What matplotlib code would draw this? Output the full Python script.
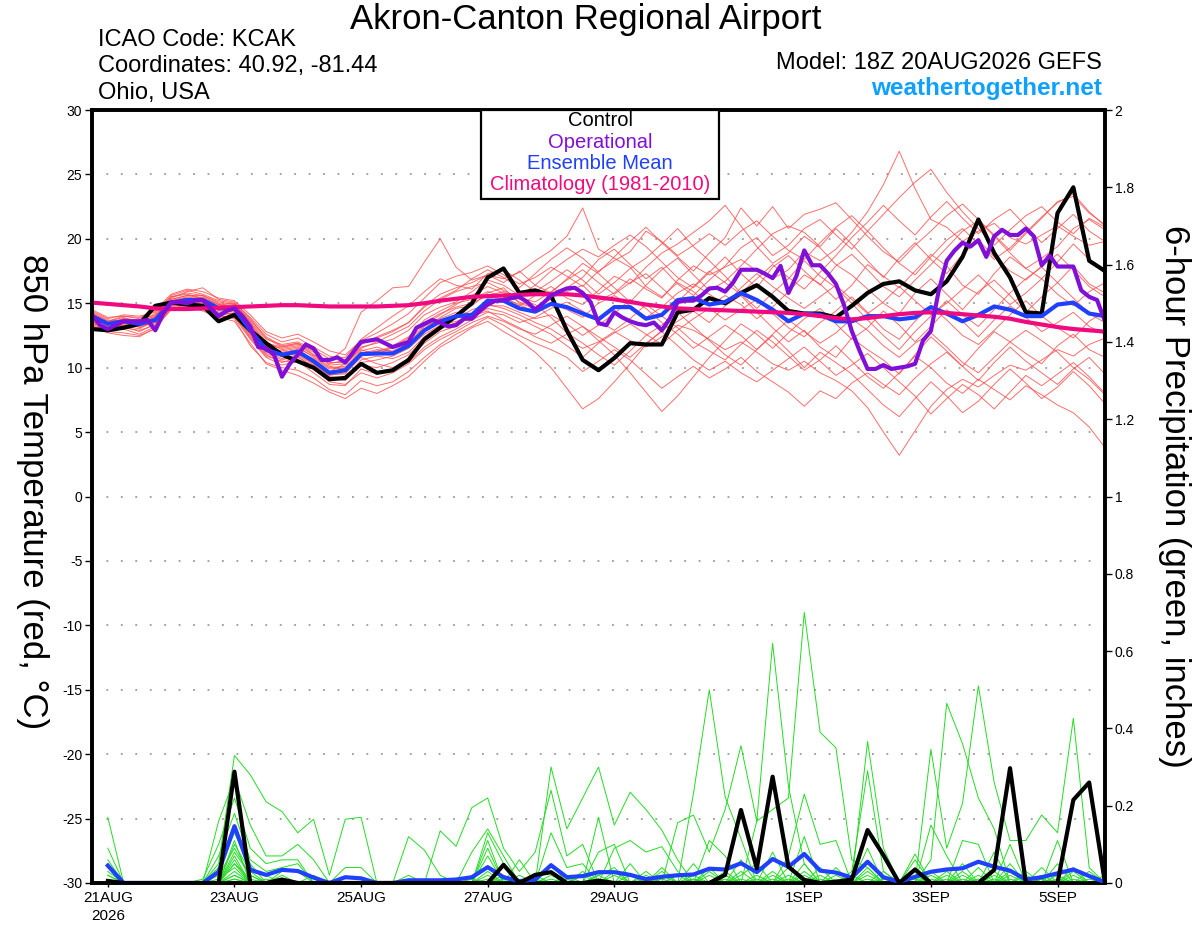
import numpy as np
import pandas as pd
import matplotlib
matplotlib.use('Agg')
import matplotlib.pyplot as plt
from matplotlib.patches import Rectangle

plt.rcParams['font.family'] = ['Liberation Sans', 'DejaVu Sans']
plt.rcParams['axes.unicode_minus'] = False

# GEFS 18Z 20AUG2026 run, 6-hourly steps (operational run is 3-hourly)
times = pd.date_range('2026-08-20 18:00', periods=65, freq='6h')
op_times = pd.date_range('2026-08-20 18:00', periods=129, freq='3h')
precip_times = times[1:]

tick_dates = pd.to_datetime(['2026-08-21', '2026-08-23', '2026-08-25', '2026-08-27',
                             '2026-08-29', '2026-09-01', '2026-09-03', '2026-09-05'])
tick_labels = ['21AUG\n2026', '23AUG', '25AUG', '27AUG', '29AUG', '1SEP', '3SEP', '5SEP']

# 850 hPa temperature (C)
control_t = [13.0, 12.9, 13.1, 13.4, 14.8, 15.05, 14.9, 14.8, 13.6, 14.1,
             12.9, 11.9, 11.0, 10.5, 10.0, 9.1, 9.2, 10.3, 9.6, 9.8,
             10.6, 12.2, 13.1, 14.0, 15.0, 17.0, 17.7, 15.8, 16.0, 15.6,
             12.9, 10.6, 9.8, 10.75, 11.9, 11.8, 11.8, 14.3, 14.5, 15.4,
             15.0, 15.8, 16.4, 15.5, 14.4, 14.2, 14.2, 13.9, 14.8, 15.8,
             16.5, 16.7, 16.0, 15.7, 16.7, 18.6, 21.5, 18.9, 17.0, 14.3,
             14.2, 22.0, 24.0, 18.3, 17.5]

oper_t = [14.1, 13.3, 13.0, 13.3, 13.6, 13.6, 13.6, 13.7, 12.9, 14.2,
          15.05, 15.1, 15.0, 15.2, 15.25, 14.6, 14.0, 14.4, 14.6, 14.0,
          13.2, 11.6, 11.5, 11.0, 9.3, 10.3, 11.0, 11.8, 11.5, 10.6,
          10.6, 10.8, 10.4, 11.2, 12.0, 12.1, 12.2, 11.9, 11.6, 11.8,
          12.0, 13.1, 13.4, 13.7, 13.5, 13.2, 13.3, 13.8, 13.8, 14.4,
          14.9, 15.2, 15.25, 15.4, 15.5, 15.1, 14.5, 15.0, 15.6, 15.9,
          16.15, 16.2, 15.8, 15.1, 13.45, 13.3, 14.3, 13.9, 13.6, 13.4,
          13.3, 13.5, 12.9, 13.8, 15.1, 15.2, 15.2, 15.6, 16.15, 16.2,
          15.9, 16.6, 17.6, 17.6, 17.6, 17.3, 16.95, 17.9, 15.8, 17.1,
          19.1, 17.95, 17.95, 17.3, 16.5, 14.9, 12.85, 11.3, 9.9, 9.9,
          10.2, 9.9, 10.0, 10.1, 10.3, 12.1, 12.85, 16.0, 18.3, 19.1,
          19.7, 19.4, 19.9, 18.6, 20.2, 20.7, 20.3, 20.3, 20.8, 20.2,
          17.95, 18.7, 17.85, 17.85, 17.85, 16.0, 15.5, 15.25, 13.6]

mean_t = [14.0, 13.4, 13.6, 13.4, 13.7, 15.05, 15.25, 15.25, 14.6, 14.6,
          12.9, 11.4, 11.0, 11.25, 10.5, 9.6, 9.8, 11.05, 11.1, 11.1,
          11.7, 12.9, 13.6, 14.0, 14.1, 15.2, 15.2, 14.6, 14.35, 14.95,
          14.7, 14.2, 13.75, 14.7, 14.7, 13.8, 14.1, 15.25, 15.4, 14.9,
          15.1, 15.8, 15.25, 14.5, 13.6, 14.2, 14.1, 13.6, 13.6, 14.0,
          14.0, 13.75, 13.9, 14.7, 14.2, 13.6, 14.1, 14.75, 14.5, 14.0,
          14.0, 14.9, 15.05, 14.2, 14.0]

clim_t = [15.05, 14.95, 14.85, 14.75, 14.6, 14.55, 14.55, 14.6, 14.65, 14.7,
          14.75, 14.8, 14.85, 14.85, 14.8, 14.75, 14.75, 14.75, 14.75, 14.8,
          14.85, 15.0, 15.2, 15.35, 15.5, 15.55, 15.6, 15.65, 15.7, 15.7,
          15.7, 15.6, 15.45, 15.3, 15.1, 14.9, 14.75, 14.6, 14.55, 14.5,
          14.45, 14.4, 14.35, 14.3, 14.25, 14.15, 14.0, 13.85, 13.75, 13.85,
          14.0, 14.15, 14.25, 14.3, 14.25, 14.15, 14.05, 13.95, 13.8, 13.55,
          13.35, 13.15, 13.0, 12.9, 12.8]

# ensemble members, temperature
t01 = [14.2, 13.6, 13.9, 13.5, 14.0, 15.3, 15.6, 15.4, 14.8, 14.9, 13.5, 12.0, 11.4, 11.6, 10.8, 10.0, 10.1, 11.3, 11.6, 11.2,
       11.9, 13.0, 13.9, 14.6, 14.8, 15.8, 16.2, 15.0, 14.6, 15.5, 15.9, 16.4, 15.2, 15.8, 16.9, 16.1, 15.4, 16.8, 17.9, 17.2,
       17.8, 18.4, 17.5, 16.9, 17.6, 19.0, 18.3, 19.2, 20.5, 22.1, 24.2, 26.8, 23.9, 21.5, 20.9, 19.8, 20.6, 21.2, 20.1, 19.6,
       20.3, 21.0, 20.2, 19.5, 19.8]
t02 = [13.6, 13.0, 13.1, 12.9, 13.3, 14.8, 15.0, 14.9, 14.3, 14.1, 12.4, 11.0, 10.4, 10.8, 10.1, 9.2, 9.0, 10.4, 10.6, 10.9,
       11.5, 12.6, 13.3, 13.8, 14.5, 14.9, 14.6, 14.1, 13.5, 13.0, 12.2, 11.5, 12.0, 12.8, 12.1, 11.6, 12.4, 13.3, 12.9, 12.2,
       11.4, 12.0, 11.2, 10.3, 9.8, 10.5, 9.6, 9.0, 8.2, 6.9, 5.0, 3.2, 5.1, 7.0, 8.3, 9.1, 8.5, 9.4, 10.2, 9.8,
       10.6, 11.4, 10.9, 11.8, 12.3]
t03 = [14.4, 13.8, 14.1, 14.0, 14.3, 15.6, 16.0, 15.7, 15.2, 15.0, 13.9, 12.6, 12.0, 12.3, 11.6, 10.9, 10.6, 11.8, 12.4, 12.9,
       13.5, 14.8, 15.7, 16.2, 16.6, 17.2, 16.9, 17.4, 18.3, 19.1, 20.2, 22.4, 19.2, 18.5, 17.8, 16.3, 15.5, 16.6, 15.9, 14.8,
       15.6, 14.9, 13.8, 14.7, 15.9, 17.2, 16.5, 15.3, 16.4, 18.0, 17.1, 16.2, 17.5, 18.8, 17.9, 16.4, 15.7, 17.3, 18.6, 17.7,
       16.9, 18.2, 19.6, 18.4, 17.3]
t04 = [13.3, 12.7, 12.5, 12.4, 13.1, 14.5, 14.7, 14.4, 13.9, 13.6, 11.9, 10.3, 9.8, 9.4, 8.8, 8.1, 7.6, 8.4, 8.0, 8.6,
       9.3, 10.5, 11.6, 12.3, 13.1, 13.6, 12.8, 12.1, 11.2, 10.0, 8.4, 6.8, 7.6, 8.9, 10.3, 11.8, 12.9, 13.6, 14.4, 13.5,
       14.8, 15.6, 14.3, 13.1, 12.0, 12.9, 11.6, 10.8, 12.3, 11.4, 10.6, 9.5, 11.0, 12.4, 11.3, 10.1, 11.5, 12.8, 12.0, 11.1,
       10.3, 11.7, 12.6, 11.4, 10.8]
t05 = [14.0, 13.5, 13.7, 13.1, 13.5, 15.0, 15.3, 15.5, 14.9, 14.6, 13.0, 11.8, 11.2, 11.4, 10.6, 9.7, 10.3, 11.4, 11.0, 11.6,
       12.3, 13.7, 14.4, 15.0, 15.3, 15.9, 15.5, 14.8, 15.6, 16.3, 15.4, 14.9, 16.0, 17.1, 16.5, 17.8, 18.9, 19.6, 20.5, 21.4,
       22.6, 21.0, 19.4, 18.1, 18.9, 20.2, 19.3, 18.0, 17.2, 16.1, 15.0, 14.2, 15.8, 16.9, 15.7, 14.5, 15.9, 16.8, 15.6, 14.3,
       15.5, 16.6, 17.9, 16.5, 15.8]
t06 = [13.8, 13.2, 13.3, 13.0, 13.8, 15.1, 15.4, 15.1, 14.4, 14.3, 12.6, 11.3, 10.7, 11.0, 10.2, 9.4, 9.6, 10.8, 10.3, 10.0,
       10.7, 11.9, 12.8, 13.2, 14.0, 14.4, 13.7, 13.1, 12.4, 11.9, 12.6, 13.2, 12.1, 11.0, 9.6, 8.1, 6.6, 7.8, 9.3, 10.8,
       12.1, 13.4, 12.6, 11.5, 12.7, 13.8, 14.6, 13.4, 12.2, 13.1, 14.4, 13.3, 12.0, 13.2, 14.5, 13.6, 12.4, 13.7, 14.8, 13.9,
       12.8, 13.5, 14.3, 13.2, 12.6]
t07 = [14.1, 13.4, 13.5, 13.6, 14.2, 15.4, 15.9, 16.2, 15.3, 15.1, 13.8, 12.3, 11.6, 11.9, 11.0, 10.5, 11.5, 14.3, 15.2, 16.2,
       16.3, 18.2, 20.0, 17.8, 16.8, 17.2, 16.6, 17.5, 16.4, 15.8, 16.9, 18.1, 17.3, 16.2, 15.1, 16.4, 17.6, 18.5, 17.2, 16.0,
       16.7, 17.9, 19.2, 20.4, 21.0, 20.5, 19.4, 20.8, 19.6, 18.3, 17.0, 18.5, 19.7, 18.4, 17.3, 18.8, 19.9, 18.6, 17.5, 16.8,
       17.9, 18.8, 17.6, 16.3, 15.5]
t08 = [13.9, 13.3, 13.8, 13.7, 14.1, 15.2, 15.5, 15.3, 14.7, 14.8, 13.2, 11.7, 11.1, 11.3, 10.4, 9.5, 9.5, 10.9, 11.3, 11.5,
       12.1, 13.3, 14.1, 14.9, 15.6, 16.3, 15.8, 15.1, 14.7, 15.3, 16.2, 17.0, 18.4, 19.2, 18.0, 16.9, 17.8, 16.5, 15.6, 16.8,
       17.9, 19.3, 20.1, 18.7, 19.5, 20.8, 21.5, 20.3, 19.2, 20.6, 21.9, 23.2, 24.4, 25.4, 23.6, 22.1, 20.8, 19.5, 20.7, 21.8,
       22.5, 21.3, 20.4, 21.6, 20.9]
t09 = [13.5, 12.9, 13.0, 12.6, 13.2, 14.7, 15.0, 14.8, 14.0, 13.9, 12.2, 10.8, 10.2, 10.5, 9.6, 8.7, 8.6, 9.9, 9.5, 9.9,
       10.4, 11.6, 12.4, 13.0, 13.7, 14.3, 14.1, 13.5, 13.9, 14.6, 15.1, 14.4, 13.6, 12.9, 13.8, 14.9, 14.0, 13.1, 12.0, 11.3,
       10.6, 11.8, 12.9, 12.0, 10.9, 9.8, 10.6, 11.7, 10.5, 9.3, 8.4, 9.6, 10.9, 10.0, 8.8, 8.0, 9.1, 8.3, 7.5, 8.6,
       7.9, 7.1, 6.5, 5.4, 3.8]
t10 = [14.3, 13.7, 13.6, 13.3, 13.9, 15.5, 15.8, 15.6, 15.0, 14.7, 13.4, 11.9, 11.6, 11.8, 11.2, 10.4, 10.4, 11.6, 11.9, 12.2,
       12.9, 14.1, 14.7, 15.1, 15.9, 16.8, 16.4, 15.6, 16.4, 17.5, 18.4, 19.2, 18.6, 19.5, 20.3, 19.4, 18.2, 17.0, 16.2, 17.4,
       18.6, 17.3, 16.2, 17.8, 18.7, 17.5, 16.4, 17.9, 18.8, 17.6, 16.3, 15.5, 16.8, 18.0, 19.3, 20.6, 21.4, 20.2, 18.9, 17.7,
       18.5, 19.4, 20.8, 21.5, 20.7]
t11 = [13.7, 13.1, 13.4, 13.2, 13.6, 14.9, 15.1, 15.0, 14.5, 14.4, 12.8, 11.2, 10.9, 11.1, 10.3, 9.3, 9.2, 10.6, 10.9, 10.7,
       11.2, 12.4, 13.3, 13.6, 13.9, 14.6, 14.3, 13.8, 13.2, 12.6, 11.7, 10.8, 11.9, 12.7, 13.4, 12.6, 11.8, 12.9, 13.8, 14.6,
       13.7, 14.5, 15.3, 14.2, 13.1, 12.4, 13.5, 14.4, 15.5, 14.3, 13.0, 12.2, 13.6, 14.8, 13.7, 12.5, 11.8, 12.9, 14.1, 15.2,
       14.0, 13.1, 12.3, 13.6, 14.4]
t12 = [14.5, 13.9, 14.0, 13.8, 14.5, 15.7, 16.1, 15.9, 15.4, 15.2, 14.1, 12.8, 12.3, 12.6, 12.0, 11.3, 11.0, 12.1, 12.7, 13.4,
       14.2, 15.4, 16.6, 17.1, 17.4, 17.9, 17.2, 16.5, 17.0, 17.8, 17.1, 16.3, 17.5, 18.3, 19.0, 20.6, 19.8, 18.7, 19.5, 20.4,
       19.5, 20.6, 21.4, 20.2, 19.1, 18.4, 19.7, 20.9, 21.8, 20.6, 19.3, 18.1, 17.2, 18.6, 19.9, 20.8, 19.6, 18.4, 19.3, 20.5,
       21.7, 22.8, 23.5, 22.1, 21.0]
t13 = [13.4, 12.8, 12.7, 12.5, 13.0, 14.6, 14.8, 14.6, 14.1, 13.8, 11.7, 10.4, 10.0, 9.8, 9.2, 8.3, 7.9, 9.0, 8.6, 8.9,
       9.7, 10.8, 11.8, 12.6, 13.2, 13.9, 13.3, 12.5, 11.9, 11.4, 10.8, 9.7, 10.5, 11.4, 10.6, 9.5, 8.4, 9.3, 10.1, 9.2,
       9.9, 10.8, 9.7, 8.9, 8.1, 7.0, 8.2, 7.6, 8.8, 9.6, 8.7, 7.9, 9.2, 10.3, 11.2, 10.1, 9.0, 10.4, 11.6, 10.5,
       9.6, 8.7, 9.9, 10.8, 9.5]
t14 = [13.9, 13.4, 13.2, 13.4, 13.7, 15.1, 15.4, 15.2, 14.6, 14.5, 12.9, 11.5, 11.0, 11.2, 10.7, 9.9, 10.0, 11.1, 11.4, 11.3,
       11.9, 13.2, 13.8, 14.3, 14.2, 15.0, 15.4, 14.9, 14.3, 15.0, 14.5, 13.9, 15.0, 15.6, 14.8, 13.9, 14.7, 15.8, 16.5, 15.7,
       14.9, 16.2, 17.3, 16.3, 15.4, 14.6, 15.5, 16.4, 15.3, 14.2, 15.1, 16.3, 15.2, 14.1, 15.0, 16.1, 17.2, 16.0, 14.9, 15.8,
       16.9, 15.7, 14.8, 15.9, 16.6]
t15 = [13.6, 13.0, 13.3, 13.3, 13.5, 14.8, 15.2, 14.9, 14.2, 14.2, 12.5, 11.1, 10.6, 10.9, 10.0, 9.0, 9.3, 10.2, 10.0, 10.4,
       11.0, 12.2, 13.0, 13.5, 14.0, 14.8, 14.8, 14.3, 13.8, 14.1, 13.4, 12.5, 13.3, 14.2, 15.3, 14.6, 13.5, 12.6, 11.5, 12.4,
       13.3, 12.5, 11.4, 12.6, 13.7, 12.8, 11.9, 12.7, 13.8, 12.9, 11.7, 10.8, 11.9, 12.7, 11.6, 10.4, 9.6, 10.8, 12.0, 12.9,
       12.1, 11.2, 10.0, 9.1, 7.9]
t16 = [14.2, 13.6, 14.0, 13.9, 14.4, 15.5, 15.7, 15.4, 14.9, 15.0, 13.6, 12.2, 11.8, 12.0, 11.4, 10.7, 10.8, 12.2, 13.1, 14.0,
       14.8, 15.9, 16.9, 16.4, 16.1, 17.3, 17.6, 16.8, 15.9, 16.7, 17.6, 16.8, 15.7, 16.6, 17.7, 18.5, 19.6, 20.8, 19.4, 18.3,
       17.1, 15.8, 16.9, 18.0, 17.0, 16.1, 17.4, 18.7, 20.1, 21.3, 22.6, 21.4, 20.3, 21.7, 22.9, 21.6, 20.4, 21.5, 22.3, 21.0,
       19.7, 20.8, 21.9, 20.6, 19.8]
t17 = [13.8, 13.3, 13.6, 13.2, 13.6, 15.0, 15.2, 15.1, 14.6, 14.5, 13.1, 11.6, 11.3, 11.5, 10.9, 10.1, 9.9, 11.2, 11.2, 11.7,
       12.4, 13.5, 14.2, 14.7, 15.0, 15.6, 15.9, 15.3, 14.9, 13.9, 12.7, 11.9, 11.0, 10.2, 11.3, 12.5, 13.3, 14.3, 13.2, 12.1,
       11.0, 10.2, 11.4, 12.5, 11.3, 10.0, 11.2, 10.4, 9.5, 8.3, 7.1, 6.2, 7.6, 8.9, 7.8, 6.5, 7.4, 8.7, 9.9, 8.8,
       7.6, 8.5, 9.7, 8.6, 7.2]
t18 = [14.1, 13.5, 13.8, 13.6, 14.0, 15.3, 15.6, 15.6, 15.1, 14.9, 13.7, 12.4, 11.7, 11.9, 11.3, 10.2, 10.3, 11.5, 12.0, 12.6,
       13.2, 14.4, 15.3, 15.9, 16.3, 16.6, 16.0, 15.4, 15.1, 15.9, 16.8, 17.6, 16.6, 15.7, 16.6, 17.3, 16.2, 15.1, 16.3, 17.5,
       16.6, 15.7, 14.6, 15.8, 16.9, 18.3, 17.1, 16.2, 15.0, 13.7, 12.5, 11.4, 12.8, 14.0, 15.2, 14.1, 13.2, 14.5, 15.8, 16.9,
       17.8, 16.6, 15.4, 14.2, 13.5]
t19 = [13.5, 12.9, 13.2, 12.8, 13.4, 14.6, 14.9, 14.7, 14.2, 14.0, 12.3, 10.9, 10.5, 10.4, 9.9, 8.9, 8.7, 9.6, 9.2, 9.6,
       10.3, 11.4, 12.2, 12.8, 13.5, 14.0, 13.6, 13.0, 12.6, 13.3, 14.0, 13.2, 12.4, 11.6, 10.8, 11.9, 12.8, 11.7, 10.6, 9.8,
       10.5, 9.6, 8.9, 9.8, 10.7, 11.6, 10.5, 9.4, 10.2, 11.1, 10.0, 8.9, 7.8, 6.4, 7.6, 8.7, 7.9, 6.8, 8.1, 9.4,
       8.6, 9.5, 10.4, 9.3, 8.0]
t20 = [14.0, 13.4, 13.5, 13.5, 13.9, 15.2, 15.4, 15.3, 14.7, 14.7, 13.3, 11.8, 11.5, 11.7, 11.0, 10.3, 10.6, 11.9, 12.3, 12.8,
       13.5, 14.7, 15.4, 16.0, 16.9, 17.6, 17.0, 16.2, 17.3, 18.4, 19.3, 18.5, 17.4, 18.6, 19.8, 20.9, 19.7, 18.6, 17.5, 18.9,
       20.1, 22.4, 21.0, 22.5, 20.8, 21.9, 22.3, 22.8, 21.5, 20.2, 19.0, 18.2, 19.5, 20.6, 21.8, 22.7, 21.5, 20.3, 19.1, 20.4,
       21.6, 22.9, 23.3, 22.0, 21.1]
temp_members = [t01, t02, t03, t04, t05, t06, t07, t08, t09, t10,
                t11, t12, t13, t14, t15, t16, t17, t18, t19, t20]

# 6-hour precipitation (inches), steps 1..64 after 18Z 20AUG
control_p = [0.005, 0, 0, 0, 0, 0, 0, 0,
             0.288, 0, 0, 0.009, 0, 0, 0, 0,
             0, 0, 0, 0, 0, 0, 0, 0,
             0, 0.047, 0, 0.021, 0.028, 0, 0, 0.006,
             0, 0, 0, 0, 0, 0, 0, 0.021,
             0.189, 0.038, 0.275, 0.042, 0.008, 0, 0.003, 0.009,
             0.137, 0.072, 0, 0.035, 0, 0, 0, 0,
             0.034, 0.297, 0, 0, 0, 0.215, 0.26, 0]

mean_p = [0.045, 0, 0, 0, 0, 0, 0, 0.029,
          0.147, 0.034, 0.021, 0.034, 0.031, 0.014, 0.0, 0.015,
          0.012, 0, 0, 0.007, 0.007, 0.007, 0.009, 0.015,
          0.041, 0.015, 0.005, 0.009, 0.046, 0.015, 0.018, 0.028,
          0.028, 0.021, 0.010, 0.016, 0.020, 0.022, 0.037, 0.035,
          0.051, 0.028, 0.062, 0.042, 0.075, 0.032, 0.027, 0.014,
          0.055, 0.015, 0.003, 0.016, 0.029, 0.035, 0.038, 0.055,
          0.042, 0.032, 0.009, 0.015, 0.025, 0.035, 0.018, 0.002]

# members: only the non-zero 6h amounts, keyed by step
p01 = {1: 0.17, 8: 0.05, 9: 0.33, 10: 0.28, 11: 0.21, 12: 0.185, 13: 0.13, 14: 0.165, 15: 0.02, 16: 0.165,
       17: 0.17, 25: 0.02, 29: 0.05, 32: 0.08, 33: 0.10, 39: 0.04, 43: 0.03, 45: 0.12, 49: 0.04, 53: 0.03,
       56: 0.04, 60: 0.02}
p02 = {1: 0.09, 8: 0.16, 9: 0.27, 10: 0.15, 11: 0.07, 12: 0.07, 13: 0.10, 14: 0.06, 20: 0.12, 21: 0.085,
       22: 0.02, 29: 0.30, 30: 0.14, 31: 0.22, 32: 0.30, 33: 0.15, 34: 0.235, 35: 0.19, 36: 0.137, 37: 0.06,
       41: 0.06, 45: 0.05, 49: 0.09, 53: 0.15, 54: 0.07, 57: 0.08}
p03 = {1: 0.06, 7: 0.01, 8: 0.10, 9: 0.22, 10: 0.09, 11: 0.05, 12: 0.06, 13: 0.06, 22: 0.135, 23: 0.095,
       24: 0.195, 25: 0.22, 26: 0.09, 27: 0.03, 28: 0.08, 29: 0.24, 30: 0.07, 31: 0.10, 38: 0.232, 39: 0.50,
       40: 0.223, 41: 0.115, 47: 0.04, 52: 0.03, 55: 0.05, 59: 0.03, 62: 0.04}
p04 = {1: 0.05, 8: 0.07, 9: 0.18, 10: 0.06, 11: 0.03, 12: 0.04, 13: 0.05, 24: 0.08, 25: 0.14, 26: 0.07,
       29: 0.13, 30: 0.04, 31: 0.05, 37: 0.156, 38: 0.176, 39: 0.08, 40: 0.19, 41: 0.355, 42: 0.16, 43: 0.62,
       44: 0.25, 45: 0.05, 50: 0.03, 54: 0.03, 58: 0.05, 61: 0.05}
p05 = {1: 0.04, 8: 0.04, 9: 0.15, 10: 0.05, 12: 0.03, 13: 0.03, 20: 0.02, 25: 0.13, 26: 0.05, 28: 0.02,
       33: 0.09, 34: 0.11, 35: 0.08, 36: 0.094, 37: 0.03, 42: 0.16, 43: 0.19, 44: 0.22, 45: 0.70, 46: 0.39,
       47: 0.35, 48: 0.06, 49: 0.04, 52: 0.06, 55: 0.11, 56: 0.10, 60: 0.04, 63: 0.03}
p06 = {1: 0.03, 8: 0.03, 9: 0.13, 10: 0.04, 11: 0.02, 16: 0.04, 17: 0.04, 25: 0.11, 27: 0.06, 32: 0.17,
       36: 0.04, 39: 0.11, 40: 0.07, 44: 0.07, 45: 0.23, 46: 0.10, 47: 0.11, 49: 0.366, 50: 0.09, 53: 0.06,
       54: 0.465, 55: 0.36, 56: 0.22, 57: 0.14, 62: 0.03}
p07 = {1: 0.02, 9: 0.11, 14: 0.02, 25: 0.09, 34: 0.05, 38: 0.05, 43: 0.08, 48: 0.03, 49: 0.29, 50: 0.03,
       53: 0.346, 54: 0.09, 55: 0.206, 56: 0.51, 57: 0.26, 58: 0.11, 59: 0.11, 60: 0.176, 61: 0.13, 62: 0.426,
       63: 0.04}
p08 = {1: 0.02, 9: 0.10, 10: 0.03, 25: 0.07, 35: 0.03, 52: 0.075, 58: 0.10, 61: 0.11, 64: 0.02}
p09 = {1: 0.01, 8: 0.02, 9: 0.09, 10: 0.02, 32: 0.02, 33: 0.04, 36: 0.03, 41: 0.02, 42: 0.05, 46: 0.04,
       55: 0.03, 58: 0.02}
p10 = {9: 0.08, 10: 0.02, 26: 0.02, 31: 0.03, 38: 0.02, 40: 0.03, 44: 0.04, 49: 0.02, 53: 0.02, 57: 0.03,
       61: 0.02}
p11 = {9: 0.07, 11: 0.01, 27: 0.02, 30: 0.02, 33: 0.03, 39: 0.03, 43: 0.02, 45: 0.03, 54: 0.02, 56: 0.02,
       60: 0.01}
p12 = {9: 0.06, 12: 0.02, 25: 0.03, 29: 0.02, 35: 0.02, 41: 0.03, 47: 0.02, 52: 0.02, 55: 0.02, 58: 0.03,
       62: 0.02}
p13 = {9: 0.05, 10: 0.01, 28: 0.01, 32: 0.02, 36: 0.02, 42: 0.02, 46: 0.02, 49: 0.03, 57: 0.02, 63: 0.01}
p14 = {9: 0.05, 24: 0.01, 31: 0.02, 37: 0.02, 40: 0.02, 44: 0.02, 48: 0.02, 53: 0.01, 59: 0.02}
p15 = {8: 0.01, 9: 0.04, 26: 0.01, 33: 0.02, 38: 0.01, 43: 0.01, 45: 0.02, 50: 0.01, 56: 0.01, 61: 0.01}
p16 = {9: 0.03, 29: 0.01, 34: 0.02, 39: 0.02, 42: 0.01, 47: 0.01, 54: 0.01, 60: 0.01}
p17 = {9: 0.02, 30: 0.01, 36: 0.01, 41: 0.01, 44: 0.01, 52: 0.01, 57: 0.01}
p18 = {9: 0.02, 25: 0.01, 32: 0.01, 38: 0.01, 46: 0.01, 55: 0.01}
p19 = {9: 0.01, 35: 0.01, 45: 0.01, 58: 0.01}
p20 = {9: 0.01, 40: 0.01, 49: 0.01, 62: 0.01}
precip_members = [p01, p02, p03, p04, p05, p06, p07, p08, p09, p10,
                  p11, p12, p13, p14, p15, p16, p17, p18, p19, p20]

RED = '#ff4848'
GREEN = '#22dd22'
PURPLE = '#8010d8'
BLUE = '#2040ff'
MAGENTA = '#f00a80'

fig = plt.figure(figsize=(12, 9.27), dpi=100)
ax = fig.add_axes([92 / 1200, 1 - 883 / 927, 1013 / 1200, 773 / 927])
ax2 = ax.twinx()

# temperature (left axis)
for v in range(-25, 30, 5):
    ax.axhline(v, color='#9a9a9a', lw=1.3, ls=(0, (1, 7)), zorder=0)
for m in temp_members:
    ax.plot(times, m, color=RED, lw=0.7, alpha=0.8, zorder=1)
ax.plot(times, control_t, color='black', lw=3, zorder=3)
ax.plot(times, mean_t, color=BLUE, lw=3, zorder=4)
ax.plot(times, clim_t, color=MAGENTA, lw=3, zorder=5)
ax.plot(op_times, oper_t, color=PURPLE, lw=3, zorder=6)

# precipitation (right axis)
steps = range(1, 65)
for p in precip_members:
    ax2.plot(precip_times, [p.get(k, 0.0) for k in steps], color=GREEN, lw=0.7, zorder=1)
ax2.plot(precip_times, mean_p, color=BLUE, lw=3, zorder=3)
ax2.plot(precip_times, control_p, color='black', lw=3, zorder=4)

ax.set_xlim(times[0], times[-1])
ax.set_ylim(-30, 30)
ax2.set_ylim(0, 2)
ax.set_yticks(range(-30, 31, 5))
ax2.set_yticks(np.arange(0, 2.01, 0.2))
ax2.set_yticklabels(['0', '0.2', '0.4', '0.6', '0.8', '1', '1.2', '1.4', '1.6', '1.8', '2'])
ax.set_xticks(tick_dates)
ax.set_xticklabels(tick_labels, linespacing=1.35)

ax.tick_params(axis='y', direction='out', length=5, width=1, labelsize=10, pad=2)
ax2.tick_params(axis='y', direction='out', length=5, width=1, labelsize=10, pad=2)
ax.tick_params(axis='x', direction='out', length=3, width=1, labelsize=11, pad=3)

for a in (ax, ax2):
    for s in a.spines.values():
        s.set_linewidth(2.6)

# legend box
ax2.add_patch(Rectangle((0.384, 0.885), 0.235, 0.115, transform=ax2.transAxes,
                        facecolor='white', edgecolor='black', lw=1.6, zorder=20, clip_on=False))
leg_items = [('Control', 'black'), ('Operational', PURPLE),
             ('Ensemble Mean', BLUE), ('Climatology (1981-2010)', MAGENTA)]
for n, (txt, c) in enumerate(leg_items):
    ax2.text(0.5015, 0.9858 - n * 0.0276, txt, color=c, fontsize=14.5, ha='center', va='center',
             transform=ax2.transAxes, zorder=21)

# titles and axis labels
fig.text(586 / 1200, 1 - 19 / 927, 'Akron-Canton Regional Airport', fontsize=25, ha='center', va='center')
fig.text(98 / 1200, 1 - 40 / 927, 'ICAO Code: KCAK', fontsize=17, ha='left', va='center')
fig.text(98 / 1200, 1 - 66 / 927, 'Coordinates: 40.92, -81.44', fontsize=17, ha='left', va='center')
fig.text(98 / 1200, 1 - 93 / 927, 'Ohio, USA', fontsize=17, ha='left', va='center')
fig.text(1102 / 1200, 1 - 63 / 927, 'Model: 18Z 20AUG2026 GEFS', fontsize=17, ha='right', va='center')
fig.text(1102 / 1200, 1 - 89 / 927, 'weathertogether.net', fontsize=17.5, fontweight='bold',
         color='#10a0ff', ha='right', va='center')
fig.text(32 / 1200, 1 - 492 / 927, '850 hPa Temperature (red, °C)', fontsize=25,
         rotation=-90, ha='center', va='center')
fig.text(1175 / 1200, 1 - 496 / 927, '6-hour Precipitation (green, inches)', fontsize=25,
         rotation=-90, ha='center', va='center')

fig.savefig('out.png', dpi=100)
